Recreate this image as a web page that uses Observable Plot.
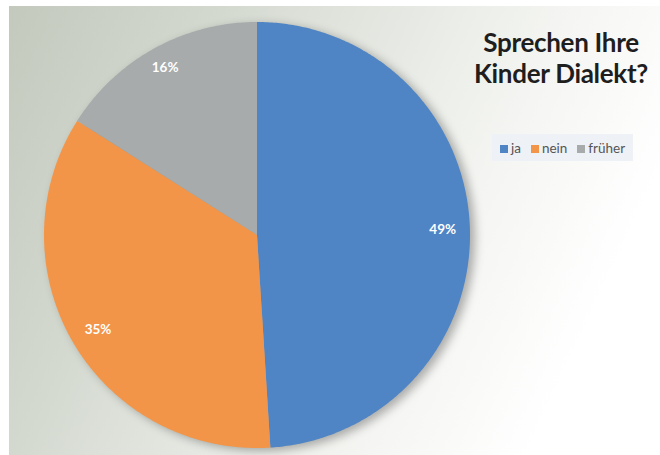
<!DOCTYPE html>
<html>
<head>
<meta charset="utf-8">
<script src="https://cdn.jsdelivr.net/npm/d3@7"></script>
<script src="https://cdn.jsdelivr.net/npm/@observablehq/plot@0.6"></script>
<style>
  html, body { margin: 0; padding: 0; background: #fff; }
  #wrap { position: relative; width: 660px; height: 455px; overflow: hidden; background: #fff; }
  #bg { position: absolute; left: 9px; top: 6px; right: 0; bottom: 0;
        background: linear-gradient(115deg, #c3c9bd 0%, #d4d9d0 25%, #e7eae4 48%, #f5f6f3 66%, #ffffff 85%); }
  #chart { position: absolute; left: 0; top: 0; }
  #chart svg { background: transparent !important; }
  #title { position: absolute; left: 461px; width: 200px; top: 27px; text-align: center;
           font-family: Lato, "Open Sans", sans-serif; font-weight: 700; font-size: 26px; line-height: 31px;
           color: #1e1e1e; letter-spacing: -0.3px; }
  #legend { position: absolute; left: 492px; top: 134px; width: 141px; height: 27px;
            background: #eef1f5; display: flex; align-items: center; justify-content: center; gap: 10px;
            font-family: Lato, "Open Sans", sans-serif; font-size: 13.5px; color: #555; }
  #legend span.sw { display: inline-block; width: 8px; height: 8px; margin-right: 3px; vertical-align: 0px; }
</style>
</head>
<body>
<div id="wrap">
  <div id="bg"></div>
  <div id="chart"></div>
  <div id="title">Sprechen Ihre<br>Kinder Dialekt?</div>
  <div id="legend"></div>
</div>
<script>
const categories = ["ja", "nein", "früher"];
const values = [49, 35, 16];
const labels = ["49%", "35%", "16%"];
const colors = ["#4f84c5", "#f39548", "#a8abab"];

// pie geometry (unit radius), clockwise from top
const pie = d3.pie().sort(null).value(d => d)(values);
function arcPoints(a0, a1) {
  const pts = [];
  const n = Math.max(2, Math.ceil((a1 - a0) / 0.01));
  for (let i = 0; i <= n; i++) {
    const a = a0 + (a1 - a0) * i / n;
    pts.push({x: Math.sin(a), y: Math.cos(a)});
  }
  return pts;
}
const slices = pie.map((p, i) => ({cat: categories[i], color: colors[i], pts: arcPoints(p.startAngle, p.endAngle)}));
const labelRadius = [0.87, 0.87, 0.9];
const labelPts = pie.map((p, i) => {
  const a = (p.startAngle + p.endAngle) / 2;
  const r = labelRadius[i];
  return {x: Math.sin(a) * r, y: Math.cos(a) * r, label: labels[i]};
});

const R = 213, cx = 257, cy = 235, W = 660, H = 455;
// each wedge: area between the arc and the centre (0,0)
const wedge = (pts, opts) => Plot.area(pts, {x1: "x", y1: "y", x2: 0, y2: 0, ...opts});
const marks = [
  wedge(arcPoints(0, 2 * Math.PI), {fill: "#000", fillOpacity: 0.3, dx: 5, dy: 3}),
  ...slices.map(s => wedge(s.pts, {fill: s.color})),
  Plot.text(labelPts, {x: "x", y: "y", text: "label", fill: "white", fontWeight: "bold", fontSize: 13.5, fontFamily: "Lato, 'Open Sans', sans-serif"})
];
const chart = Plot.plot({
  width: W, height: H,
  margin: 0,
  x: {domain: [-cx / R, (W - cx) / R], axis: null},
  y: {domain: [-(H - cy) / R, cy / R], axis: null},
  style: {background: "transparent"},
  marks
});
const shadowG = chart.querySelector('g[aria-label="area"]');
if (shadowG) shadowG.style.filter = "blur(5px)";
document.getElementById("chart").appendChild(chart);

const leg = document.getElementById("legend");
categories.forEach((c, i) => {
  const item = document.createElement("span");
  item.innerHTML = `<span class="sw" style="background:${colors[i]}"></span>${c}`;
  leg.appendChild(item);
});
</script>
</body>
</html>
